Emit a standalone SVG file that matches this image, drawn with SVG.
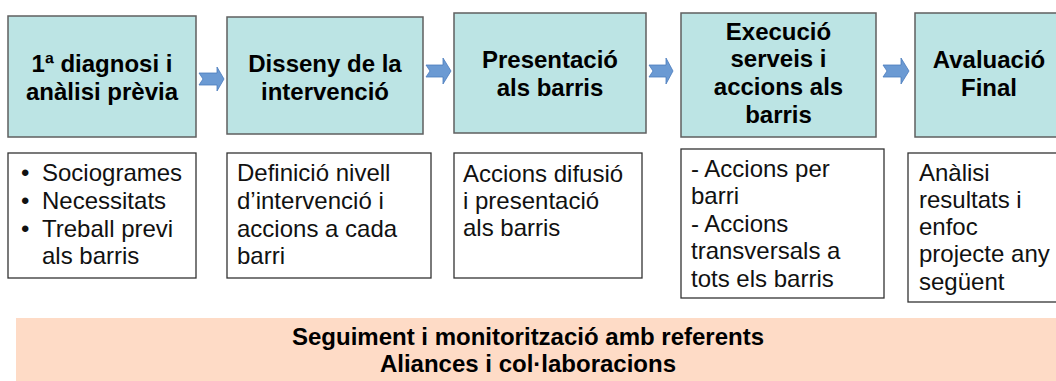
<svg xmlns="http://www.w3.org/2000/svg" width="1056" height="381" viewBox="0 0 1056 381">
<style>
.hb{fill:#bce4e4;stroke:#5f5f5f;stroke-width:1.5}
.tb{fill:#ffffff;stroke:#333333;stroke-width:1.3}
.ht{font-family:"Liberation Sans",Arial,sans-serif;font-size:24px;font-weight:bold;fill:#000;text-anchor:middle}
.bt{font-family:"Liberation Sans",Arial,sans-serif;font-size:24px;fill:#111}
.ar{fill:#6b9ad3;stroke:#4a7bbd;stroke-width:0.8}
.band{fill:#fedbc6}
</style>
<rect width="1056" height="381" fill="#ffffff"/>
<g id="connectors">
<path class="ar" d="M199,73 L217,73 L217,67 L224,79 L217,91 L217,85 L199,85 L203,79 Z"/>
<path class="ar" d="M426,65 L443,65 L443,58 L451,71 L443,84 L443,77 L426,77 L430,71 Z"/>
<path class="ar" d="M649,65 L666,65 L666,58 L673,71 L666,84 L666,77 L649,77 L653,71 Z"/>
<path class="ar" d="M883,65 L901,65 L901,58 L909,71 L901,84 L901,77 L883,77 L887,71 Z"/>
</g>
<g id="node1">
<rect class="hb" x="8" y="16" width="188" height="121"/>
<text class="ht" x="102" y="72">1ª diagnosi i</text>
<text class="ht" x="102" y="100">anàlisi prèvia</text>
</g>
<g id="node2">
<rect class="hb" x="227" y="17" width="196" height="117"/>
<text class="ht" x="325" y="72">Disseny de la</text>
<text class="ht" x="325" y="100">intervenció</text>
</g>
<g id="node3">
<rect class="hb" x="454" y="13" width="192" height="120"/>
<text class="ht" x="550" y="68">Presentació</text>
<text class="ht" x="550" y="96">als barris</text>
</g>
<g id="node4">
<rect class="hb" x="681" y="13" width="195" height="124"/>
<text class="ht" x="778.5" y="40">Execució</text>
<text class="ht" x="778.5" y="67">serveis i</text>
<text class="ht" x="778.5" y="95">accions als</text>
<text class="ht" x="778.5" y="123">barris</text>
</g>
<g id="node5">
<rect class="hb" x="915" y="13" width="150" height="124"/>
<text class="ht" x="989" y="68">Avaluació</text>
<text class="ht" x="989" y="96">Final</text>
</g>
<g id="text1">
<rect class="tb" x="8" y="153" width="188" height="125"/>
<text class="bt" x="21" y="181">•</text>
<text class="bt" x="21" y="209">•</text>
<text class="bt" x="21" y="237">•</text>
<text class="bt" x="42" y="181">Sociogrames</text>
<text class="bt" x="42" y="209">Necessitats</text>
<text class="bt" x="42" y="237">Treball previ</text>
<text class="bt" x="42" y="264">als barris</text>
</g>
<g id="text2">
<rect class="tb" x="227" y="153" width="204" height="125"/>
<text class="bt" x="237" y="181">Definició nivell</text>
<text class="bt" x="237" y="209">d’intervenció i</text>
<text class="bt" x="237" y="237">accions a cada</text>
<text class="bt" x="237" y="264">barri</text>
</g>
<g id="text3">
<rect class="tb" x="454" y="153" width="188" height="125"/>
<text class="bt" x="463" y="182">Accions difusió</text>
<text class="bt" x="463" y="209">i presentació</text>
<text class="bt" x="463" y="236">als barris</text>
</g>
<g id="text4">
<rect class="tb" x="681" y="149" width="203" height="149"/>
<text class="bt" x="691" y="177">- Accions per</text>
<text class="bt" x="691" y="204">barri</text>
<text class="bt" x="691" y="232">- Accions</text>
<text class="bt" x="691" y="259">transversals a</text>
<text class="bt" x="691" y="287">tots els barris</text>
</g>
<g id="text5">
<rect class="tb" x="908" y="153" width="160" height="149"/>
<text class="bt" x="919" y="181">Anàlisi</text>
<text class="bt" x="919" y="208">resultats i</text>
<text class="bt" x="919" y="235">enfoc</text>
<text class="bt" x="919" y="262">projecte any</text>
<text class="bt" x="919" y="290">següent</text>
</g>
<g id="band">
<rect class="band" x="16" y="318" width="1045" height="70"/>
<text class="ht" x="528" y="345">Seguiment i monitorització amb referents</text>
<text class="ht" x="528" y="372">Aliances i col·laboracions</text>
</g>
</svg>
